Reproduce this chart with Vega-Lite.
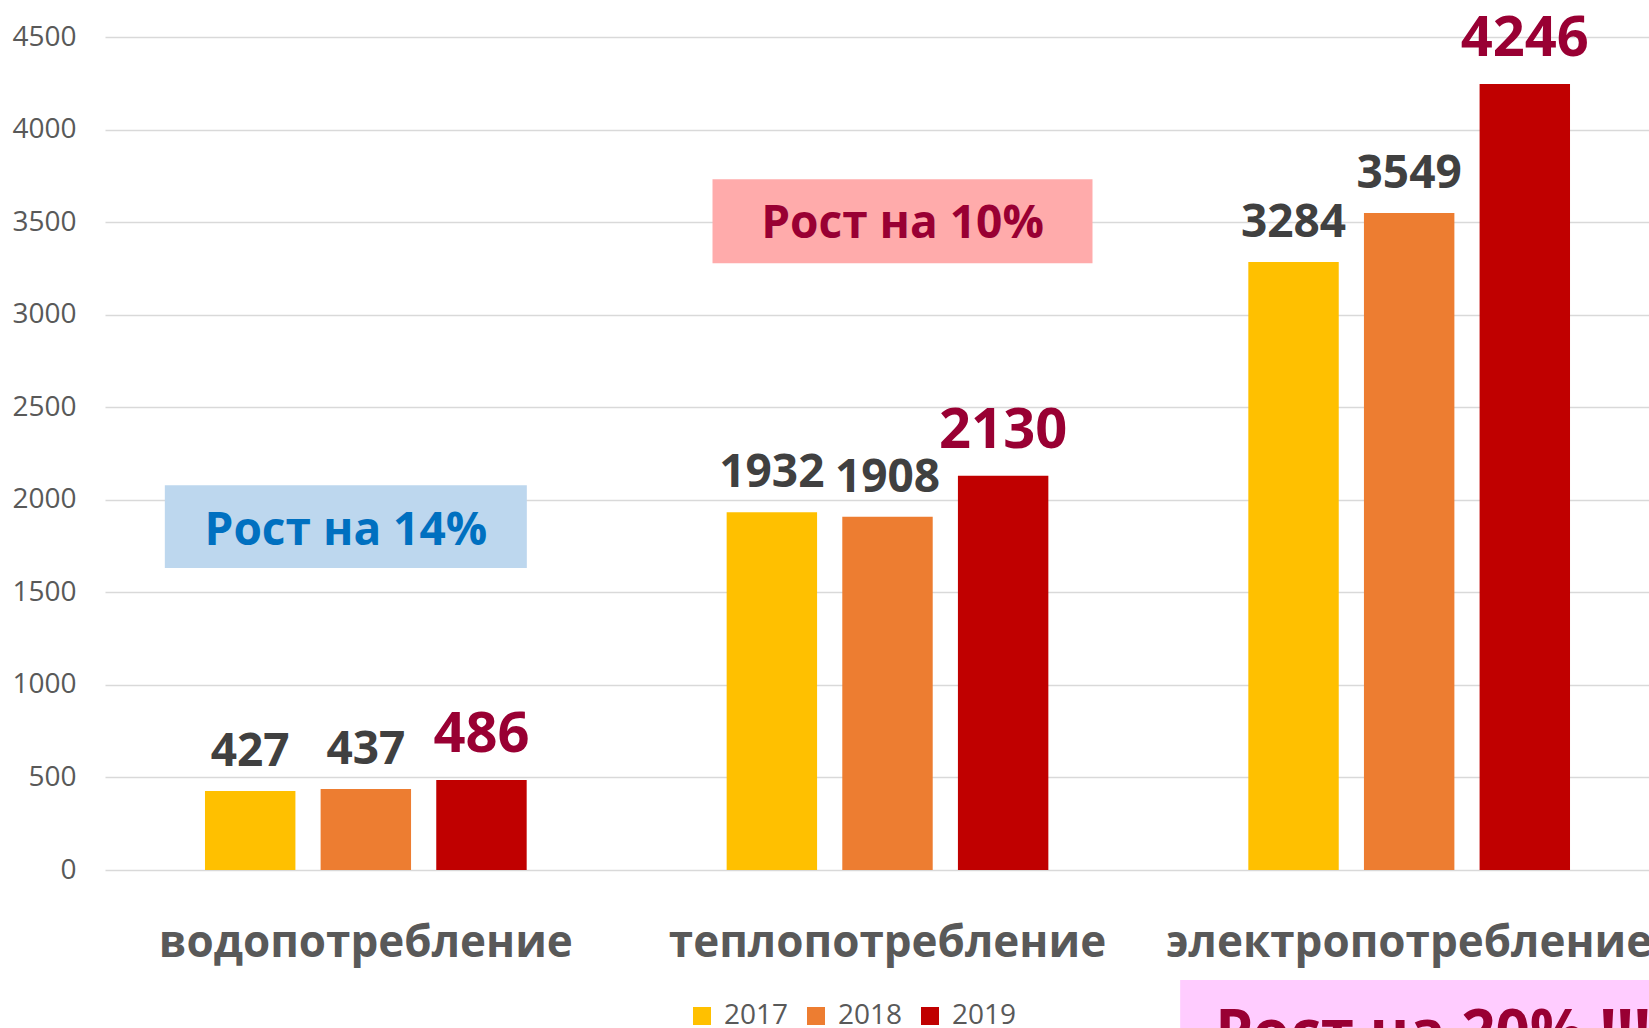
{
  "$schema": "https://vega.github.io/schema/vega-lite/v6.json",
  "width": 1544,
  "height": 833,
  "autosize": {"type": "none"},
  "padding": {"left": 105, "top": 37, "right": 0, "bottom": 158},
  "background": "white",
  "config": {"view": {"stroke": null}, "font": "Open Sans"},
  "datasets": {
    "bars": [
      {"category": "водопотребление", "year": "2017", "value": 427},
      {"category": "водопотребление", "year": "2018", "value": 437},
      {"category": "водопотребление", "year": "2019", "value": 486},
      {"category": "теплопотребление", "year": "2017", "value": 1932},
      {"category": "теплопотребление", "year": "2018", "value": 1908},
      {"category": "теплопотребление", "year": "2019", "value": 2130},
      {"category": "электропотребление", "year": "2017", "value": 3284},
      {"category": "электропотребление", "year": "2018", "value": 3549},
      {"category": "электропотребление", "year": "2019", "value": 4246}
    ],
    "boxes": [
      {"box": "b14", "category": "водопотребление", "top": 2079, "bottom": 1631, "label": "Рост на 14%", "labelY": 1755},
      {"box": "b10", "category": "теплопотребление", "top": 3732, "bottom": 3278, "label": "Рост на 10%", "labelY": 3413},
      {"box": "b20", "category": "электропотребление", "top": -594, "bottom": -1100, "label": "Рост на 20% !!!", "labelY": -988}
    ]
  },
  "layer": [
    {
      "data": {"name": "boxes"},
      "transform": [{"filter": "datum.box == 'b14'"}],
      "mark": {"type": "bar", "width": 362, "xOffset": -20, "color": "#BDD7EE"},
      "encoding": {
        "x": {
          "field": "category", "type": "nominal",
          "scale": {"domain": ["водопотребление", "теплопотребление", "электропотребление"], "range": [0, 1565], "paddingInner": 0.335, "paddingOuter": 0.1675},
          "axis": {"title": null, "domain": false, "ticks": false, "labelAngle": 0, "labelLimit": 0, "labelPadding": 51, "labelFontSize": 44, "labelFontWeight": "bold", "labelColor": "#595959", "labelFont": "Open Sans", "labelOverlap": false, "labelBound": false}
        },
        "y": {
          "field": "top", "type": "quantitative",
          "scale": {"domain": [0, 4500], "nice": false, "zero": false},
          "axis": {"title": null, "values": [0, 500, 1000, 1500, 2000, 2500, 3000, 3500, 4000, 4500], "format": "d", "domain": false, "ticks": false, "grid": true, "gridColor": "#D9D9D9", "gridWidth": 1.5, "labelFontSize": 28, "labelColor": "#595959", "labelPadding": 29, "labelFont": "Open Sans"}
        },
        "y2": {"field": "bottom"}
      }
    },
    {
      "data": {"name": "boxes"},
      "transform": [{"filter": "datum.box == 'b10'"}],
      "mark": {"type": "bar", "width": 380, "xOffset": 15, "color": "#FFABAB"},
      "encoding": {
        "x": {"field": "category", "type": "nominal"},
        "y": {"field": "top", "type": "quantitative", "title": null},
        "y2": {"field": "bottom"}
      }
    },
    {
      "data": {"name": "boxes"},
      "transform": [{"filter": "datum.box == 'b20'"}],
      "mark": {"type": "bar", "width": 700, "xOffset": 121, "color": "#FFCCFF"},
      "encoding": {
        "x": {"field": "category", "type": "nominal"},
        "y": {"field": "top", "type": "quantitative", "title": null},
        "y2": {"field": "bottom"}
      }
    },
    {
      "data": {"name": "bars"},
      "mark": {"type": "bar"},
      "encoding": {
        "x": {"field": "category", "type": "nominal"},
        "xOffset": {"field": "year", "type": "nominal", "scale": {"paddingInner": 0.218, "paddingOuter": 0.109}},
        "y": {"field": "value", "type": "quantitative", "title": null},
        "color": {
          "field": "year", "type": "nominal",
          "scale": {"domain": ["2017", "2018", "2019"], "range": ["#FFC000", "#ED7D31", "#C00000"]},
          "legend": {"orient": "none", "legendX": 583, "legendY": 965, "direction": "horizontal", "title": null, "symbolType": "square", "symbolSize": 324, "symbolStrokeWidth": 0, "labelFontSize": 28, "labelColor": "#595959", "labelOffset": 8, "columnPadding": 13, "labelFont": "Open Sans"}
        }
      }
    },
    {
      "data": {"name": "bars"},
      "transform": [{"filter": "datum.year != '2019'"}],
      "mark": {"type": "text", "baseline": "alphabetic", "dy": -25, "fontSize": 46, "fontWeight": "bold", "color": "#404040"},
      "encoding": {
        "x": {"field": "category", "type": "nominal"},
        "xOffset": {"field": "year", "type": "nominal"},
        "y": {"field": "value", "type": "quantitative", "title": null},
        "text": {"field": "value", "type": "quantitative"}
      }
    },
    {
      "data": {"name": "bars"},
      "transform": [{"filter": "datum.year == '2019'"}],
      "mark": {"type": "text", "baseline": "alphabetic", "dy": -28, "fontSize": 56, "fontWeight": "bold", "color": "#990033"},
      "encoding": {
        "x": {"field": "category", "type": "nominal"},
        "xOffset": {"field": "year", "type": "nominal"},
        "y": {"field": "value", "type": "quantitative", "title": null},
        "text": {"field": "value", "type": "quantitative"}
      }
    },
    {
      "data": {"name": "boxes"},
      "transform": [{"filter": "datum.box == 'b14'"}],
      "mark": {"type": "text", "baseline": "alphabetic", "xOffset": -20, "fontSize": 46, "fontWeight": "bold", "color": "#0070C0"},
      "encoding": {
        "x": {"field": "category", "type": "nominal"},
        "y": {"field": "labelY", "type": "quantitative", "title": null},
        "text": {"field": "label"}
      }
    },
    {
      "data": {"name": "boxes"},
      "transform": [{"filter": "datum.box == 'b10'"}],
      "mark": {"type": "text", "baseline": "alphabetic", "xOffset": 15, "fontSize": 46, "fontWeight": "bold", "color": "#990033"},
      "encoding": {
        "x": {"field": "category", "type": "nominal"},
        "y": {"field": "labelY", "type": "quantitative", "title": null},
        "text": {"field": "label"}
      }
    },
    {
      "data": {"name": "boxes"},
      "transform": [{"filter": "datum.box == 'b20'"}],
      "mark": {"type": "text", "baseline": "alphabetic", "align": "left", "xOffset": -194, "fontSize": 60, "fontWeight": "bold", "color": "#990033"},
      "encoding": {
        "x": {"field": "category", "type": "nominal"},
        "y": {"field": "labelY", "type": "quantitative", "title": null},
        "text": {"field": "label"}
      }
    }
  ]
}
